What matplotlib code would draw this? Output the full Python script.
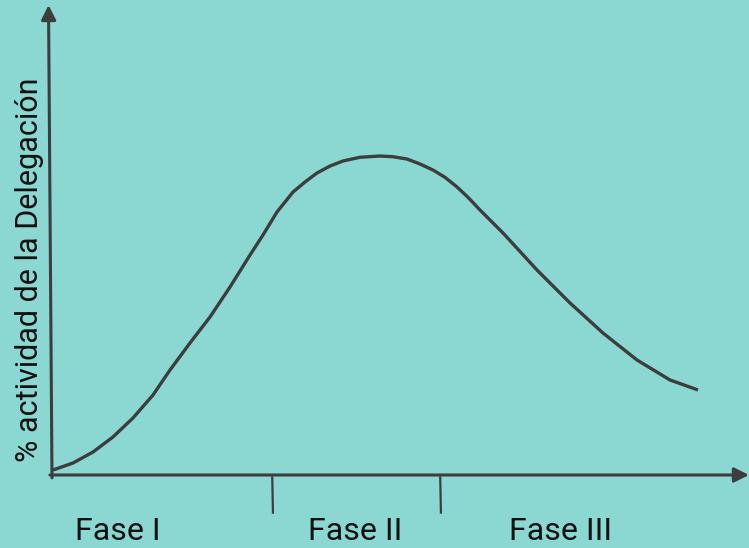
import matplotlib
matplotlib.use("Agg")
import matplotlib.pyplot as plt

# curve (x: time, y: % activity)
curve_x = [0.14, 3.01, 5.88, 8.75, 11.62, 14.49, 16.93, 19.80, 22.67, 25.54, 28.41, 30.27,
           32.28, 34.58, 36.30, 38.02, 39.89, 41.75, 44.19, 47.06, 48.92, 50.93, 52.80,
           54.66, 56.38, 58.11, 59.68, 61.41, 64.71, 69.58, 74.32, 79.05, 83.93, 88.67,
           92.68]
curve_y = [1.06, 2.55, 4.89, 8.09, 12.13, 17.02, 22.34, 28.09, 33.62, 40.0, 46.81, 51.06,
           55.96, 60.21, 62.34, 64.26, 65.74, 66.81, 67.60, 67.87, 67.72, 67.23, 66.17,
           64.89, 63.34, 61.28, 59.09, 56.38, 51.49, 43.62, 36.60, 30.21, 24.47, 20.21,
           18.09]

phase_edges = [31.6, 55.7]
phase_labels = ["Fase I", "Fase II", "Fase III"]
phase_centers = [9.5, 43.5, 72.9]

ylabel = "% actividad de la Delegación"

bg = "#8bd8d2"
ink = "#3d3d3d"
fonts = ["Liberation Sans Narrow", "Roboto", "DejaVu Sans"]

fig = plt.figure(figsize=(7.49, 5.48), dpi=100, facecolor=bg)
ax = fig.add_axes([52 / 749, 73 / 548, 697 / 749, 470 / 548])
ax.set_facecolor(bg)
ax.set_xlim(0, 100)
ax.set_ylim(0, 100)
for s in ax.spines.values():
    s.set_visible(False)
ax.set_xticks([])
ax.set_yticks([])

# axes with arrow heads
ax.annotate("", xy=(100, 0), xytext=(-0.3, 0), annotation_clip=False,
            arrowprops=dict(arrowstyle="-|>", color=ink, lw=2.2, mutation_scale=22,
                            shrinkA=0, shrinkB=0))
ax.annotate("", xy=(-0.5, 100), xytext=(0, -0.6), annotation_clip=False,
            arrowprops=dict(arrowstyle="-|>", color=ink, lw=2.2, mutation_scale=22,
                            shrinkA=0, shrinkB=0))

ax.plot(curve_x, curve_y, color=ink, lw=2.4, solid_capstyle="butt",
        solid_joinstyle="round", clip_on=False)

# phase separators below the axis
for e in phase_edges:
    ax.plot([e, e + 0.1], [-0.5, -8], color=ink, lw=1.6, clip_on=False)

for c, lab in zip(phase_centers, phase_labels):
    ax.text(c, -12, lab, ha="center", va="center", fontsize=23, color="#111111",
            family=fonts)

fig.text(30 / 749, 1 - 270 / 548, ylabel, rotation=90, ha="center", va="center",
         fontsize=22, color="#111111", family=fonts)

fig.savefig("out.png", dpi=100, facecolor=bg)
